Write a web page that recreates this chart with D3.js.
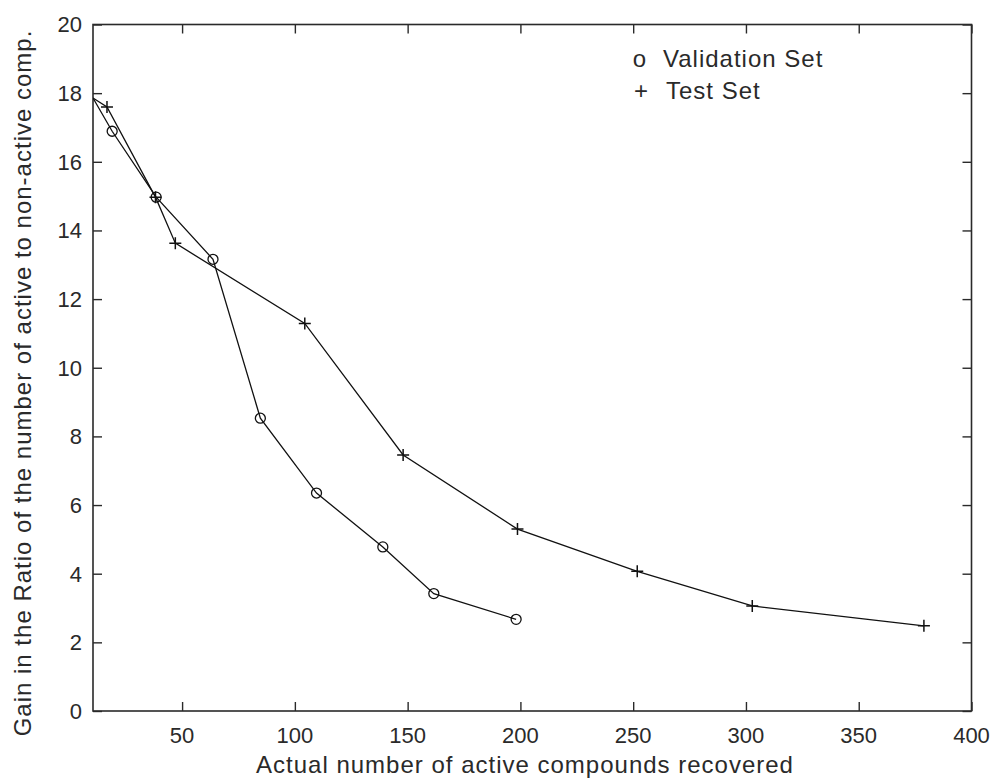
<!DOCTYPE html>
<html><head><meta charset="utf-8">
<script src="https://cdn.jsdelivr.net/npm/d3@7"></script>
<style>body{margin:0;background:#fff}</style>
</head><body>
<svg id="chart" width="996" height="783"></svg>
<script>
// Data
const validationX = [10.5, 19.0, 38.5, 63.7, 84.7, 109.6, 139.0, 161.6, 198.1];
const validationY = [17.86, 16.89, 14.97, 13.16, 8.53, 6.35, 4.78, 3.42, 2.67];
const testX = [10.5, 16.7, 38.2, 47.0, 104.4, 148.0, 198.7, 251.8, 302.8, 378.9];
const testY = [17.86, 17.6, 14.97, 13.63, 11.29, 7.46, 5.30, 4.07, 3.06, 2.48];
const xTicks = [50, 100, 150, 200, 250, 300, 350, 400];
const yTicks = [0, 2, 4, 6, 8, 10, 12, 14, 16, 18, 20];
const xDomain = [10.5, 400];
const yDomain = [0, 20];
const xLabel = "Actual number of active compounds recovered";
const yLabel = "Gain in the Ratio of the number of active to non-active comp.";
const legendItems = [{sym: "o", text: "Validation Set"}, {sym: "+", text: "Test Set"}];

const svg = d3.select("#chart");
const L = 93, R = 971.5, T = 24.5, B = 711;
const x = d3.scaleLinear().domain(xDomain).range([L, R]);
const y = d3.scaleLinear().domain(yDomain).range([B, T]);
const ink = "#2a2a2a";
const font = "'Liberation Sans', Arial, sans-serif";

svg.append("clipPath").attr("id", "clip").append("rect")
  .attr("x", L).attr("y", T).attr("width", R - L).attr("height", B - T);

// axes (ticks inward, box)
const tickLen = 9;
const gxB = svg.append("g").attr("transform", `translate(0,${B})`)
  .call(d3.axisTop(x).tickValues(xTicks).tickSize(tickLen).tickFormat(""));
const gxT = svg.append("g").attr("transform", `translate(0,${T})`)
  .call(d3.axisBottom(x).tickValues(xTicks).tickSize(tickLen).tickFormat(""));
const gyL = svg.append("g").attr("transform", `translate(${L},0)`)
  .call(d3.axisRight(y).tickValues(yTicks).tickSize(tickLen).tickFormat(""));
const gyR = svg.append("g").attr("transform", `translate(${R},0)`)
  .call(d3.axisLeft(y).tickValues(yTicks).tickSize(tickLen).tickFormat(""));
[gxB, gxT, gyL, gyR].forEach(g => {
  g.select(".domain").remove();
  g.selectAll(".tick line").attr("stroke", ink).attr("stroke-width", 1.4);
});
svg.append("rect").attr("x", L).attr("y", T).attr("width", R - L).attr("height", B - T)
  .attr("fill", "none").attr("stroke", ink).attr("stroke-width", 1.6);

// tick labels
svg.append("g").selectAll("text").data(xTicks).join("text")
  .attr("x", d => x(d)).attr("y", 743).attr("text-anchor", "middle")
  .attr("font-family", font).attr("font-size", 22).attr("fill", ink)
  .text(d => d);
svg.append("g").selectAll("text").data(yTicks).join("text")
  .attr("x", 82).attr("y", d => y(d)).attr("dy", "0.36em").attr("text-anchor", "end")
  .attr("font-family", font).attr("font-size", 22).attr("fill", ink)
  .text(d => d);

// axis titles
svg.append("text").attr("x", (257 + 793) / 2).attr("y", 773).attr("text-anchor", "middle")
  .attr("font-family", font).attr("font-size", 24).attr("letter-spacing", 1).attr("fill", ink)
  .text(xLabel);
svg.append("text").attr("transform", `translate(31,${383}) rotate(-90)`).attr("text-anchor", "middle")
  .attr("font-family", font).attr("font-size", 24).attr("letter-spacing", 1).attr("fill", ink)
  .text(yLabel);

// series
const plot = svg.append("g").attr("clip-path", "url(#clip)");
const line = d3.line().x(d => x(d[0])).y(d => y(d[1]));
const vData = validationX.map((v, i) => [v, validationY[i]]);
const tData = testX.map((v, i) => [v, testY[i]]);
plot.append("path").datum(vData).attr("d", line).attr("fill", "none").attr("stroke", "#111").attr("stroke-width", 1.3);
plot.append("path").datum(tData).attr("d", line).attr("fill", "none").attr("stroke", "#111").attr("stroke-width", 1.3);

// markers (first point sits on the axis edge, no visible marker there)
plot.append("g").selectAll("circle").data(vData.slice(1)).join("circle")
  .attr("cx", d => x(d[0])).attr("cy", d => y(d[1])).attr("r", 5)
  .attr("fill", "none").attr("stroke", "#111").attr("stroke-width", 1.3);
const s = 6;
plot.append("g").selectAll("path").data(tData.slice(1)).join("path")
  .attr("d", d => `M${x(d[0]) - s},${y(d[1])}H${x(d[0]) + s}M${x(d[0])},${y(d[1]) - s}V${y(d[1]) + s}`)
  .attr("stroke", "#111").attr("stroke-width", 1.5);

// legend
const lg = svg.append("g");
legendItems.forEach((it, i) => {
  const by = 67 + i * 32;
  lg.append("text").attr("x", 639.5 + i * 1.5).attr("y", by).attr("text-anchor", "middle")
    .attr("font-family", font).attr("font-size", 24).attr("fill", ink).text(it.sym);
  lg.append("text").attr("x", 663 + i * 3).attr("y", by)
    .attr("font-family", font).attr("font-size", 24).attr("letter-spacing", 1).attr("fill", ink).text(it.text);
});
</script>
</body></html>
